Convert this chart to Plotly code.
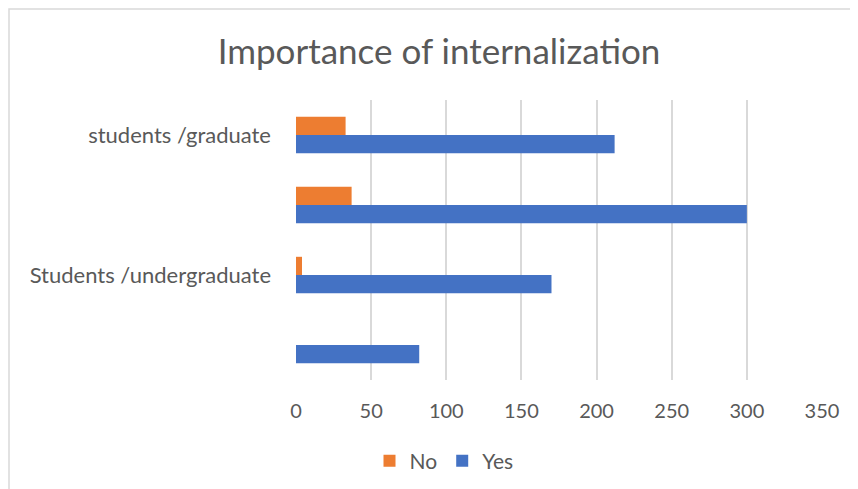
import plotly.graph_objects as go

# Data (bottom to top)
category_positions = [0, 1, 2, 3]
category_labels = ["", "Students /undergraduate", "", "students /graduate"]
yes_values = [82, 170, 300, 212]
no_values = [0, 4, 37, 33]
x_ticks = [0, 50, 100, 150, 200, 250, 300, 350]

W, H = 858, 489
L, R, T, B = 288, 44, 92, 117

fig = go.Figure()
fig.add_trace(go.Bar(y=category_positions, x=yes_values, orientation="h", name="Yes",
                     marker=dict(color="#4472C4", line=dict(width=0))))
fig.add_trace(go.Bar(y=category_positions, x=no_values, orientation="h", name="No",
                     marker=dict(color="#ED7D31", line=dict(width=0))))

pw = W - L - R
ph = H - T - B
fig.add_shape(type="rect", xref="paper", yref="paper",
              x0=(1 - L) / pw, x1=(W + 10 - L) / pw,
              y0=-(H + 10 - T - ph) / ph, y1=(ph + T - 1) / ph,
              line=dict(color="#d9d9d9", width=1.5), fillcolor="rgba(0,0,0,0)", layer="below")

fig.update_layout(
    width=W, height=H,
    margin=dict(l=L, r=R, t=T, b=B),
    paper_bgcolor="white", plot_bgcolor="white",
    barmode="group", bargap=0.48, bargroupgap=0,
    font=dict(family="Lato, Open Sans, sans-serif", color="#595959"),
    title=dict(text="Importance of internalization", x=431 / W, xref="container",
               y=1 - 44 / H, yref="container", xanchor="center", yanchor="middle",
               font=dict(size=35, color="#595959")),
    xaxis=dict(range=[0, 350], tickvals=x_ticks, showgrid=True, gridcolor="#d9d9d9",
               gridwidth=1.5, zeroline=False, showline=False, ticks="",
               tickfont=dict(size=20, color="#595959"), ticklabelstandoff=17, fixedrange=True),
    yaxis=dict(range=[-0.5, 3.5], tickvals=category_positions, ticktext=category_labels,
               showgrid=False, zeroline=False, showline=False, ticks="",
               tickfont=dict(size=22, color="#595959"), ticklabelstandoff=24),
    legend=dict(orientation="h", x=436 / W, xref="container", xanchor="center",
                y=1 - 453 / H, yref="container", yanchor="middle",
                traceorder="reversed", font=dict(size=21, color="#595959"),
                itemwidth=30),
    showlegend=True,
)

fig.write_html("out.html")
